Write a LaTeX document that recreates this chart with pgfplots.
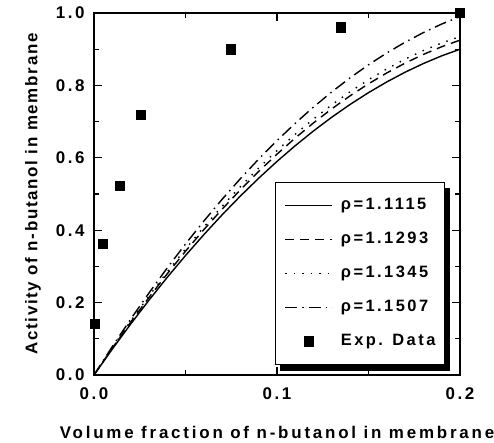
\documentclass[border=0pt]{standalone}
\usepackage{pgfplots}
\pgfplotsset{compat=1.18}
\usepackage{fontspec}
\setmainfont{Liberation Sans}
\newfontfamily\lab[LetterSpace=15]{Liberation Sans}
\newfontfamily\labx[LetterSpace=16.5]{Liberation Sans}
\newfontfamily\laby[LetterSpace=10]{Liberation Sans}
\usetikzlibrary{backgrounds}
\newcommand{\lf}{\lab\bfseries\fontsize{17}{20}\selectfont}
\pgfplotsset{
  mylineleg/.style={legend image code/.code={\draw[##1, line width=1.4bp] (0bp,0bp) -- (47bp,0bp);}},
  mymarkleg/.style={legend image code/.code={\draw[mark repeat=2,mark phase=2,##1] plot coordinates {(0bp,0bp) (23.5bp,0bp) (47bp,0bp)};}},
}
\begin{document}
\begin{tikzpicture}
\useasboundingbox (-94bp,-68bp) rectangle (400bp,375bp);
\begin{axis}[
  at={(0,0)}, anchor=origin,
  scale only axis, width=366bp, height=362bp,
  xmin=0, xmax=0.2, ymin=0, ymax=1,
  xtick={0,0.1,0.2}, ytick={0,0.2,0.4,0.6,0.8,1.0},
  minor x tick num=1, minor y tick num=1,
  tick align=inside, tick pos=both,
  major tick length=8bp, minor tick length=5bp,
  axis line style={line width=2bp},
  every tick/.style={line width=1.2bp, black},
  clip=false,
  /pgf/number format/assume math mode=true,
  /pgf/number format/fixed,
  /pgf/number format/fixed zerofill,
  /pgf/number format/precision=1,
  ticklabel style={font=\lf},
  xticklabel style={yshift=-9bp},
  yticklabel style={xshift=-6bp},
  mylineleg,
  legend style={name=leg, at={(rel axis cs:0.4945,0.533)}, anchor=north west,
    font=\lab\bfseries\fontsize{16.5}{19}\selectfont,
    draw=black, line width=1bp, fill=white,
    inner xsep=9bp, inner ysep=16bp, row sep=20bp,
    nodes={inner sep=0pt, text height=11bp, text depth=3bp},
    column sep=8bp},
  legend cell align=left,
]
\addplot[black, line width=1.4bp] coordinates {
(0,0) (0.01,0.0716) (0.02,0.1404) (0.03,0.2064) (0.04,0.2696) (0.05,0.330)
(0.06,0.3876) (0.07,0.4424) (0.08,0.4944) (0.09,0.5436) (0.10,0.590)
(0.11,0.6336) (0.12,0.6744) (0.13,0.7124) (0.14,0.7476) (0.15,0.780)
(0.16,0.8096) (0.17,0.8364) (0.18,0.8604) (0.19,0.8816) (0.20,0.900)};
\addlegendentry{ρ=1.1115}
\addplot[black, line width=1.4bp, dash pattern=on 9bp off 6bp] coordinates {
(0,0) (0.01,0.0743) (0.02,0.1456) (0.03,0.2140) (0.04,0.2794) (0.05,0.3419)
(0.06,0.4014) (0.07,0.4580) (0.08,0.5116) (0.09,0.5623) (0.10,0.6100)
(0.11,0.6548) (0.12,0.6966) (0.13,0.7355) (0.14,0.7714) (0.15,0.8044)
(0.16,0.8344) (0.17,0.8615) (0.18,0.8856) (0.19,0.9068) (0.20,0.925)};
\addlegendentry{ρ=1.1293}
\addplot[black, line width=1.4bp, dash pattern=on 1.5bp off 7bp] coordinates {
(0,0) (0.01,0.0757) (0.02,0.1484) (0.03,0.2180) (0.04,0.2846) (0.05,0.3481)
(0.06,0.4086) (0.07,0.4660) (0.08,0.5204) (0.09,0.5717) (0.10,0.6200)
(0.11,0.6652) (0.12,0.7074) (0.13,0.7465) (0.14,0.7826) (0.15,0.8156)
(0.16,0.8456) (0.17,0.8725) (0.18,0.8964) (0.19,0.9172) (0.20,0.935)};
\addlegendentry{ρ=1.1345}
\addplot[black, line width=1.4bp, dash pattern=on 12bp off 5bp on 1.5bp off 5bp] coordinates {
(0,0) (0.01,0.0785) (0.02,0.1539) (0.03,0.2263) (0.04,0.2956) (0.05,0.3619)
(0.06,0.4251) (0.07,0.4853) (0.08,0.5424) (0.09,0.5965) (0.10,0.6475)
(0.11,0.6955) (0.12,0.7404) (0.13,0.7823) (0.14,0.8211) (0.15,0.8569)
(0.16,0.8896) (0.17,0.9193) (0.18,0.9459) (0.19,0.9695) (0.20,0.990)};
\addlegendentry{ρ=1.1507}
\addplot[only marks, mark=square*, mark size=4.6bp, black, mymarkleg]
  coordinates {
(0.0005,0.141) (0.0047,0.362) (0.0142,0.522) (0.0255,0.718)
(0.0749,0.900) (0.1348,0.961) (0.2,1.0)};
\addlegendentry{Exp. Data}
\node[font=\labx\bfseries\fontsize{17}{20}\selectfont, anchor=center] at ([yshift=-57bp]rel axis cs:0.5,0) {Volume fraction of n-butanol in membrane};
\node[font=\laby\bfseries\fontsize{17}{20}\selectfont, anchor=center, rotate=90] at ([xshift=-61bp]rel axis cs:0,0.5) {Activity of n-butanol in membrane};
\end{axis}
\begin{scope}[on background layer]
\fill[black] ([shift={(5bp,-6bp)}]leg.south west) rectangle ([shift={(5bp,-6bp)}]leg.north east);
\end{scope}
\end{tikzpicture}
\end{document}
